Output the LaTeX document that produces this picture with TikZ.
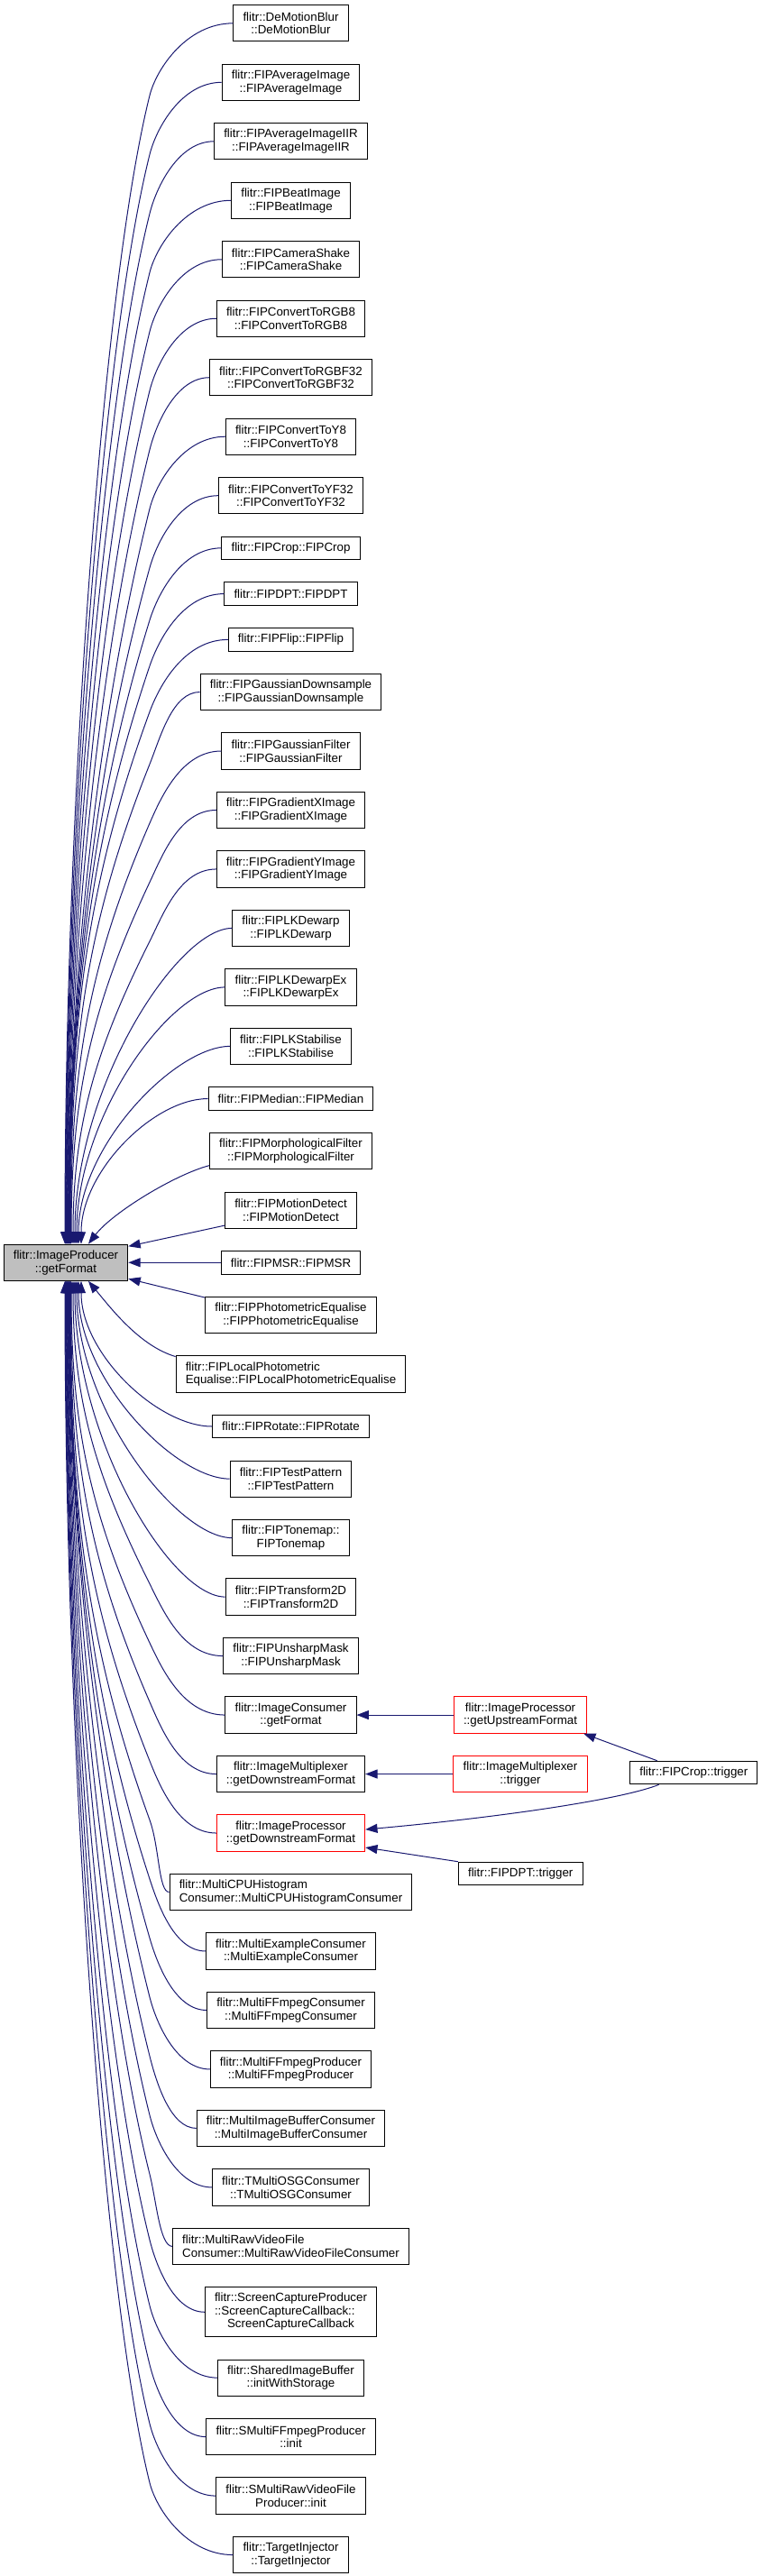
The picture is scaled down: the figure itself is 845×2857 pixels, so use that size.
\documentclass[tikz,border=0pt]{standalone}
\usepackage{fontspec}
\setmainfont{Liberation Sans}[Ligatures=NoCommon]
\usetikzlibrary{arrows.meta,calc}
\definecolor{edgeblue}{HTML}{191970}
\definecolor{grey75}{HTML}{BFBFBF}
\tikzset{
  nbox/.style={draw=black, line width=0.75pt, fill=white, inner xsep=8pt, inner ysep=1pt,
    align=center, font=\fontsize{10}{11}\selectfont},
  hone/.style={nbox, minimum height=19.2pt},
  htwo/.style={nbox, minimum height=30.2pt},
  hthree/.style={nbox, minimum height=41.3pt},
  redbox/.style={draw=red},
  calledge/.style={draw=edgeblue, line width=0.75pt, -{Triangle[length=10pt,width=7.5pt]}},
}
\newcommand\upedge[2]{%
  \draw[calledge] let \p1=(#1.west), \p2=($(main.north)+(#2,0)$),
    \n1={(\y1)-60pt-(\y2)}, \n2={min(0.35*\n1,150pt)},
    \n3={0.25+0.25*min(1,max(0,(600pt-\n1)/337.5pt))} in
    (\p1) .. controls ({\x1-0.55*(\x1-124.5pt)},\y1) and ({124.5pt+\n3*22.5},{(\y1)-37.5pt}) .. (124.5pt,{(\y1)-60pt})
    .. controls ({124.5pt-\n3*\n2},{(\y1)-60pt-\n2}) and (\x2,{(\y2)+0.4*\n1}) .. (\p2);}
\newcommand\downedge[2]{%
  \draw[calledge] let \p1=(#1.west), \p2=($(main.south)+(#2,0)$),
    \n1={(\y2)-(\y1)-60pt}, \n2={min(0.35*\n1,150pt)},
    \n3={0.25+0.25*min(1,max(0,(600pt-\n1)/337.5pt))} in
    (\p1) .. controls ({\x1-0.55*(\x1-124.5pt)},\y1) and ({124.5pt+\n3*22.5},{(\y1)+37.5pt}) .. (124.5pt,{(\y1)+60pt})
    .. controls ({124.5pt-\n3*\n2},{(\y1)+60pt+\n2}) and (\x2,{(\y2)-0.4*\n1}) .. (\p2);}
\newcommand\upnear[2]{%
  \draw[calledge] let \p1=(#1.west), \p2=($(main.north)+(#2,0)$) in
    (\p1) .. controls ({\x1-45pt},\y1) and (\x2,{(\y2)+0.5*((\y1)-(\y2))}) .. (\p2);}
\newcommand\downnear[2]{%
  \draw[calledge] let \p1=(#1.west), \p2=($(main.south)+(#2,0)$) in
    (\p1) .. controls ({\x1-45pt},\y1) and (\x2,{(\y2)-0.5*((\y2)-(\y1))}) .. (\p2);}
\begin{document}
\begin{tikzpicture}[x=0.75pt,y=-0.75pt]
\useasboundingbox (0,0) rectangle (845,2857);
% main node
\node[htwo, fill=grey75] (main) at (73,1400.26) {flitr::ImageProducer\\::getFormat};
% column of callers
\node[htwo] (n1) at (322.5,25.85) {flitr::DeMotionBlur\\::DeMotionBlur};
\node[htwo] (n2) at (322.5,91.33) {flitr::FIPAverageImage\\::FIPAverageImage};
\node[htwo] (n3) at (322.5,156.81) {flitr::FIPAverageImageIIR\\::FIPAverageImageIIR};
\node[htwo] (n4) at (322.5,222.29) {flitr::FIPBeatImage\\::FIPBeatImage};
\node[htwo] (n5) at (322.5,287.77) {flitr::FIPCameraShake\\::FIPCameraShake};
\node[htwo] (n6) at (322.5,353.25) {flitr::FIPConvertToRGB8\\::FIPConvertToRGB8};
\node[htwo] (n7) at (322.5,418.73) {flitr::FIPConvertToRGBF32\\::FIPConvertToRGBF32};
\node[htwo] (n8) at (322.5,484.21) {flitr::FIPConvertToY8\\::FIPConvertToY8};
\node[htwo] (n9) at (322.5,549.69) {flitr::FIPConvertToYF32\\::FIPConvertToYF32};
\node[hone] (n10) at (322.5,607.82) {flitr::FIPCrop::FIPCrop};
\node[hone] (n11) at (322.5,658.60) {flitr::FIPDPT::FIPDPT};
\node[hone] (n12) at (322.5,709.38) {flitr::FIPFlip::FIPFlip};
\node[htwo] (n13) at (322.5,767.51) {flitr::FIPGaussianDownsample\\::FIPGaussianDownsample};
\node[htwo] (n14) at (322.5,832.99) {flitr::FIPGaussianFilter\\::FIPGaussianFilter};
\node[htwo] (n15) at (322.5,898.47) {flitr::FIPGradientXImage\\::FIPGradientXImage};
\node[htwo] (n16) at (322.5,963.95) {flitr::FIPGradientYImage\\::FIPGradientYImage};
\node[htwo] (n17) at (322.5,1029.43) {flitr::FIPLKDewarp\\::FIPLKDewarp};
\node[htwo] (n18) at (322.5,1094.91) {flitr::FIPLKDewarpEx\\::FIPLKDewarpEx};
\node[htwo] (n19) at (322.5,1160.39) {flitr::FIPLKStabilise\\::FIPLKStabilise};
\node[hone] (n20) at (322.5,1218.52) {flitr::FIPMedian::FIPMedian};
\node[htwo] (n21) at (322.5,1276.65) {flitr::FIPMorphologicalFilter\\::FIPMorphologicalFilter};
\node[htwo] (n22) at (322.5,1342.13) {flitr::FIPMotionDetect\\::FIPMotionDetect};
\node[hone] (n23) at (322.5,1400.26) {flitr::FIPMSR::FIPMSR};
\node[htwo] (n24) at (322.5,1458.39) {flitr::FIPPhotometricEqualise\\::FIPPhotometricEqualise};
\node[htwo, align=left] (n25) at (322.5,1523.87) {flitr::FIPLocalPhotometric\\Equalise::FIPLocalPhotometricEqualise};
\node[hone] (n26) at (322.5,1582.00) {flitr::FIPRotate::FIPRotate};
\node[htwo] (n27) at (322.5,1640.13) {flitr::FIPTestPattern\\::FIPTestPattern};
\node[htwo] (n28) at (322.5,1705.61) {flitr::FIPTonemap::\\FIPTonemap};
\node[htwo] (n29) at (322.5,1771.09) {flitr::FIPTransform2D\\::FIPTransform2D};
\node[htwo] (n30) at (322.5,1836.57) {flitr::FIPUnsharpMask\\::FIPUnsharpMask};
\node[htwo] (n31) at (322.5,1902.05) {flitr::ImageConsumer\\::getFormat};
\node[htwo] (n32) at (322.5,1967.53) {flitr::ImageMultiplexer\\::getDownstreamFormat};
\node[htwo, redbox] (n33) at (322.5,2033.01) {flitr::ImageProcessor\\::getDownstreamFormat};
\node[htwo, align=left] (n34) at (322.5,2098.49) {flitr::MultiCPUHistogram\\Consumer::MultiCPUHistogramConsumer};
\node[htwo] (n35) at (322.5,2163.97) {flitr::MultiExampleConsumer\\::MultiExampleConsumer};
\node[htwo] (n36) at (322.5,2229.45) {flitr::MultiFFmpegConsumer\\::MultiFFmpegConsumer};
\node[htwo] (n37) at (322.5,2294.93) {flitr::MultiFFmpegProducer\\::MultiFFmpegProducer};
\node[htwo] (n38) at (322.5,2360.41) {flitr::MultiImageBufferConsumer\\::MultiImageBufferConsumer};
\node[htwo] (n39) at (322.5,2425.89) {flitr::TMultiOSGConsumer\\::TMultiOSGConsumer};
\node[htwo, align=left] (n40) at (322.5,2491.37) {flitr::MultiRawVideoFile\\Consumer::MultiRawVideoFileConsumer};
\node[hthree] (n41) at (322.5,2564.25) {\begin{tabular}{@{}l@{}}flitr::ScreenCaptureProducer\\::ScreenCaptureCallback::\\\multicolumn{1}{@{}c@{}}{ScreenCaptureCallback}\end{tabular}};
\node[htwo] (n42) at (322.5,2637.11) {flitr::SharedImageBuffer\\::initWithStorage};
\node[htwo] (n43) at (322.5,2702.59) {flitr::SMultiFFmpegProducer\\::init};
\node[htwo] (n44) at (322.5,2768.07) {flitr::SMultiRawVideoFile\\Producer::init};
\node[htwo] (n45) at (322.5,2833.55) {flitr::TargetInjector\\::TargetInjector};
% right-hand callers
\node[htwo, redbox] (uf) at (577,1902.05) {flitr::ImageProcessor\\::getUpstreamFormat};
\node[htwo, redbox] (mt) at (577,1967.53) {flitr::ImageMultiplexer\\::trigger};
\node[hone] (dt) at (577.2,2078) {flitr::FIPDPT::trigger};
\node[hone] (ct) at (769.3,1966) {flitr::FIPCrop::trigger};
% edges into main, from above
\upedge{n1}{-1}
\upedge{n2}{-0.5}
\upedge{n3}{0}
\upedge{n4}{0.5}
\upedge{n5}{1}
\upedge{n6}{1.5}
\upedge{n7}{2}
\upedge{n8}{2.5}
\upedge{n9}{3}
\upedge{n10}{3.5}
\upedge{n11}{4}
\upedge{n12}{4.5}
\upedge{n13}{5}
\upedge{n14}{5.5}
\upedge{n15}{6}
\upedge{n16}{8}
\upnear{n17}{10}
\upnear{n18}{12}
\upnear{n19}{14}
\upnear{n20}{17}
\draw[calledge] ([yshift=-12pt]n21.west) .. controls +(-38,10) and +(27,-35) .. ($(main.north)+(25,0)$);
\draw[calledge] ([yshift=-12.75pt]n22.west) -- ([yshift=13.5pt]main.east);
\draw[calledge] (n23.west) -- (main.east);
\draw[calledge] ([yshift=14.5pt]n24.west) -- ([yshift=-13.5pt]main.east);
\draw[calledge] ([yshift=14.5pt]n25.west) .. controls +(-40,-12) and +(25,30) .. ($(main.south)+(25,0)$);
% edges into main, from below
\downnear{n26}{17}
\downnear{n27}{14}
\downnear{n28}{12}
\downnear{n29}{10}
\downedge{n30}{8}
\downedge{n31}{6}
\downedge{n32}{5.5}
\downedge{n33}{5}
\downedge{n34}{4.5}
\downedge{n35}{4}
\downedge{n36}{3.5}
\downedge{n37}{3}
\downedge{n38}{2.5}
\downedge{n39}{2}
\downedge{n40}{1.5}
\downedge{n41}{1}
\downedge{n42}{0.5}
\downedge{n43}{0}
\downedge{n44}{-0.5}
\downedge{n45}{-1}
% right-hand edges
\draw[calledge] (uf.west) -- (n31.east);
\draw[calledge] (mt.west) -- (n32.east);
\draw[calledge] ([xshift=-30.5pt]ct.north) -- ([xshift=-3pt]uf.south east);
\draw[calledge] ([xshift=-29pt]ct.south) .. controls +(-40,16) and +(155,-14) .. ([yshift=3pt]n33.east);
\draw[calledge] (dt.north west) -- ([yshift=-12pt]n33.east);
\end{tikzpicture}
\end{document}
